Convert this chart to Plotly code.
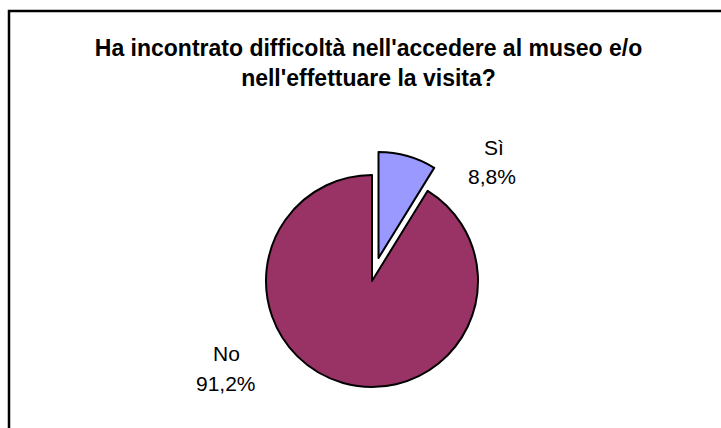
import plotly.graph_objects as go

# Survey answers
categories = ["Sì", "No"]
shares = [8.8, 91.2]
slice_colors = ["#9999FF", "#993366"]
title_text = "Ha incontrato difficoltà nell'accedere al museo e/o<br>nell'effettuare la visita?"

W, H = 721, 428


def fmt_pct(v):
    return f"{v:.1f}".replace(".", ",") + "%"


def px_x(x):
    return x / W


def px_y(y):
    return 1 - y / H


# Pie box: centre (372, 281), radius ~106 px with the first slice pulled out
pull_amount = 0.225
box = 106 * (2 + 2 * pull_amount)
cx, cy = 372, 281

fig = go.Figure(
    go.Pie(
        labels=categories,
        values=shares,
        sort=False,
        direction="clockwise",
        rotation=0,
        pull=[pull_amount, 0],
        marker=dict(colors=slice_colors, line=dict(color="black", width=2)),
        textinfo="none",
        hoverinfo="label+percent",
        showlegend=False,
        domain=dict(
            x=[px_x(cx - box / 2), px_x(cx + box / 2)],
            y=[px_y(cy + box / 2), px_y(cy - box / 2)],
        ),
    )
)

label_font = dict(family="Liberation Sans, Arial, sans-serif", size=21, color="black")
label_pos = {"Sì": ((494, 147), (492, 177)), "No": ((226, 353), (226, 383))}
annotations = []
for name, val in zip(categories, shares):
    (nx, ny), (vx, vy) = label_pos[name]
    annotations.append(dict(text=name, x=px_x(nx), y=px_y(ny), xref="paper", yref="paper",
                            xanchor="center", yanchor="middle", showarrow=False, font=label_font))
    annotations.append(dict(text=fmt_pct(val), x=px_x(vx), y=px_y(vy), xref="paper", yref="paper",
                            xanchor="center", yanchor="middle", showarrow=False, font=label_font))

fig.update_layout(
    width=W,
    height=H,
    margin=dict(l=0, r=0, t=0, b=0),
    paper_bgcolor="white",
    plot_bgcolor="white",
    title=dict(
        text=title_text,
        x=px_x(368.5),
        xanchor="center",
        y=px_y(56),
        yanchor="middle",
        font=dict(family="Liberation Sans, Arial, sans-serif", size=23, color="black", weight="bold"),
    ),
    annotations=annotations,
    shapes=[
        dict(type="rect", xref="paper", yref="paper",
             x0=px_x(9), x1=px_x(740), y0=px_y(450), y1=px_y(11),
             line=dict(color="black", width=2.5), fillcolor="rgba(0,0,0,0)"),
    ],
)

fig.write_html("out.html")
